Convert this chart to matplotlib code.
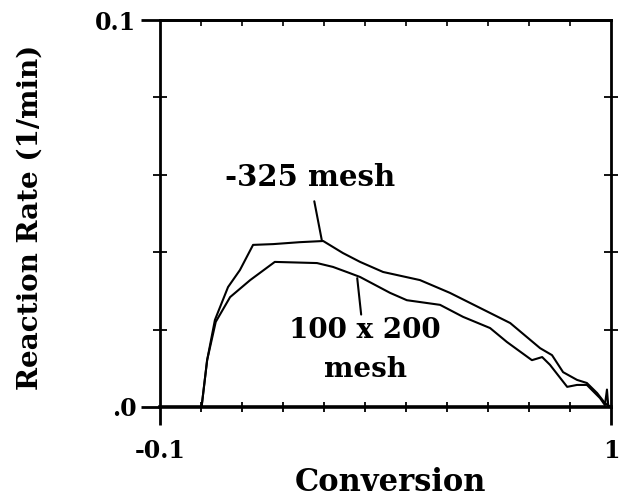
import matplotlib
matplotlib.use("Agg")
import matplotlib.pyplot as plt
from matplotlib.ticker import FixedLocator, NullFormatter

# Data
conv_325 = [0.002, 0.015, 0.034, 0.066, 0.095, 0.127, 0.176, 0.241, 0.298, 0.346,
            0.388, 0.444, 0.534, 0.607, 0.705, 0.754, 0.827, 0.856, 0.883, 0.917,
            0.941, 0.966, 0.985, 0.998]
rate_325 = [0.0005, 0.0121, 0.0225, 0.0310, 0.0354, 0.0419, 0.0421, 0.0426, 0.0429, 0.0398,
            0.0375, 0.0349, 0.0328, 0.0295, 0.0243, 0.0217, 0.0152, 0.0134, 0.0090, 0.0070,
            0.0062, 0.0036, 0.0010, 0.0000]

conv_100 = [0.002, 0.015, 0.036, 0.071, 0.120, 0.180, 0.283, 0.322, 0.363, 0.388,
            0.461, 0.502, 0.583, 0.639, 0.705, 0.746, 0.807, 0.832, 0.851, 0.893,
            0.917, 0.941, 0.973, 0.985, 0.990, 0.993, 0.998]
rate_100 = [0.0005, 0.0121, 0.0220, 0.0284, 0.0328, 0.0375, 0.0372, 0.0362, 0.0346, 0.0336,
            0.0295, 0.0276, 0.0264, 0.0233, 0.0204, 0.0168, 0.0121, 0.0129, 0.0109, 0.0052,
            0.0057, 0.0057, 0.0023, 0.0005, 0.0045, 0.0005, 0.0000]

x_major = [-0.1, 1.0]
x_major_labels = ["-0.1", "1"]
x_minor = [0.0, 0.1, 0.2, 0.3, 0.4, 0.5, 0.6, 0.7, 0.8, 0.9]
y_major = [0.0, 0.1]
y_major_labels = [".0", "0.1"]
y_minor = [0.02, 0.04, 0.06, 0.08]

FONT = "DejaVu Serif"

fig = plt.figure(figsize=(6.21, 5.03), dpi=100)
ax = fig.add_axes([0.2576, 0.1909, 0.984 - 0.2576, 0.960 - 0.1909])

ax.plot(conv_325, rate_325, color="black", lw=1.5)
ax.plot(conv_100, rate_100, color="black", lw=1.5)

ax.set_xlim(-0.1, 1.0)
ax.set_ylim(0.0, 0.1)

for s in ax.spines.values():
    s.set_linewidth(2.0)
ax.spines["bottom"].set_linewidth(2.6)

ax.xaxis.set_major_locator(FixedLocator(x_major))
ax.xaxis.set_minor_locator(FixedLocator(x_minor))
ax.yaxis.set_major_locator(FixedLocator(y_major))
ax.yaxis.set_minor_locator(FixedLocator(y_minor))
ax.set_xticklabels(x_major_labels)
ax.set_yticklabels(y_major_labels)

ax.tick_params(axis="x", which="major", direction="out", length=13, width=2,
               labelsize=17, pad=10, top=False)
ax.tick_params(axis="y", which="major", direction="out", length=14, width=2,
               labelsize=17, pad=3, right=False)
ax.tick_params(axis="x", which="minor", direction="inout", length=7, width=1.3,
               top=False, bottom=True)
ax.tick_params(axis="y", which="minor", direction="inout", length=10, width=1.3,
               left=True, right=True)
for lab in ax.get_xticklabels() + ax.get_yticklabels():
    lab.set_fontfamily(FONT)
    lab.set_fontweight("bold")

# top inward ticks
sec = ax.secondary_xaxis("top")
sec.xaxis.set_major_locator(FixedLocator(x_minor))
sec.xaxis.set_major_formatter(NullFormatter())
sec.tick_params(direction="in", length=4, width=1.2)
sec.spines["top"].set_linewidth(2.0)

ax.set_xlabel("Conversion", fontsize=22, fontweight="bold", family=FONT)
ax.xaxis.set_label_coords(0.51, -0.155)
ax.set_ylabel("Reaction Rate (1/min)", fontsize=20, fontweight="bold", family=FONT)
ax.yaxis.set_label_coords(-0.259, 0.49)

ax.annotate("-325 mesh", xy=(0.295, 0.0429), xytext=(0.265, 0.0594),
            ha="center", va="center", fontsize=21, fontweight="bold", family=FONT,
            arrowprops=dict(arrowstyle="-", color="black", lw=1.5, shrinkA=5, shrinkB=0))
ax.annotate("100 x 200\nmesh", xy=(0.381, 0.0333), xytext=(0.400, 0.0147),
            ha="center", va="center", fontsize=20, fontweight="bold", family=FONT,
            linespacing=1.55,
            arrowprops=dict(arrowstyle="-", color="black", lw=1.5, shrinkA=0, shrinkB=0))

fig.savefig("out.png", dpi=100)
